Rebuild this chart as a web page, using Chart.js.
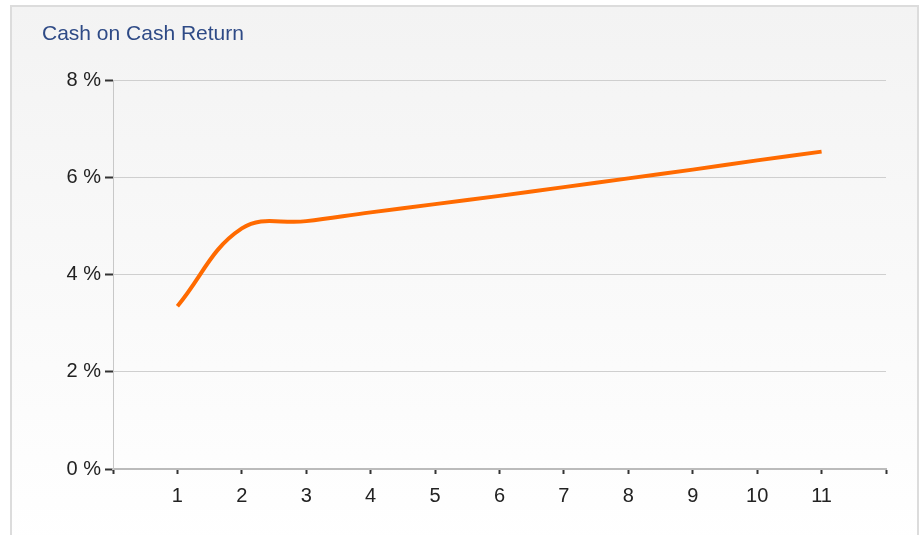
<!DOCTYPE html>
<html>
<head>
<meta charset="utf-8">
<script src="https://cdn.jsdelivr.net/npm/chart.js@4"></script>
<style>
  html, body { margin: 0; padding: 0; background: #fff; }
  #frame {
    position: absolute; left: 10px; top: 5px; width: 905px; height: 540px;
    border: 2px solid #dcdcdc;
    background: linear-gradient(#f3f3f3, #ffffff);
  }
  #wrap { position: absolute; left: 0; top: 0; width: 923px; height: 535px; }
</style>
</head>
<body>
<div id="frame"></div>
<div id="wrap"><canvas id="chart" width="923" height="535"></canvas></div>
<script>
// chart data
const years = [1, 2, 3, 4, 5, 6, 7, 8, 9, 10, 11];
const cashReturn = [3.35, 4.95, 5.10, 5.28, 5.45, 5.62, 5.80, 5.98, 6.16, 6.35, 6.53];
const yTicks = [0, 2, 4, 6, 8];

const ctx = document.getElementById('chart').getContext('2d');
const font = { family: 'Arial, "Liberation Sans", sans-serif', size: 20 };

new Chart(ctx, {
    type: 'line',
    data: {
        datasets: [{
            data: years.map((y, i) => ({ x: y, y: cashReturn[i] })),
            borderColor: '#ff6a00',
            borderWidth: 4,
            tension: 0.4,
            pointRadius: 0,
            fill: false
        }]
    },
    options: {
        responsive: false,
        animation: false,
        layout: { padding: { top: 22, left: 42, right: 37, bottom: 0 } },
        plugins: {
            legend: { display: false },
            tooltip: { enabled: false },
            title: {
                display: true,
                text: 'Cash on Cash Return',
                align: 'start',
                color: '#2e4a86',
                font: { family: font.family, size: 21, weight: 'normal' },
                padding: { top: 0, bottom: 33 }
            }
        },
        scales: {
            x: {
                type: 'linear',
                min: 0,
                max: years.length + 1,
                afterFit: s => { s.height = 66; },
                afterBuildTicks: s => { s.ticks = [0].concat(years, [years.length + 1]).map(v => ({ value: v })); },
                ticks: {
                    color: '#222',
                    font: font,
                    padding: 10,
                    callback: v => years.includes(v) ? String(v) : ''
                },
                grid: { drawOnChartArea: false, tickColor: '#333', tickLength: 5, tickWidth: 2 },
                border: { color: '#bbb', width: 2 }
            },
            y: {
                min: 0,
                max: 8,
                afterFit: s => { s.width = 71; },
                afterBuildTicks: s => { s.ticks = yTicks.map(v => ({ value: v })); },
                ticks: {
                    color: '#222',
                    font: font,
                    padding: 4,
                    callback: v => v + ' %'
                },
                grid: { color: '#cfcfcf', lineWidth: 1, tickColor: '#333', tickLength: 8, tickWidth: 2 },
                border: { color: '#c8c8c8', width: 1 }
            }
        }
    }
});
</script>
</body>
</html>
